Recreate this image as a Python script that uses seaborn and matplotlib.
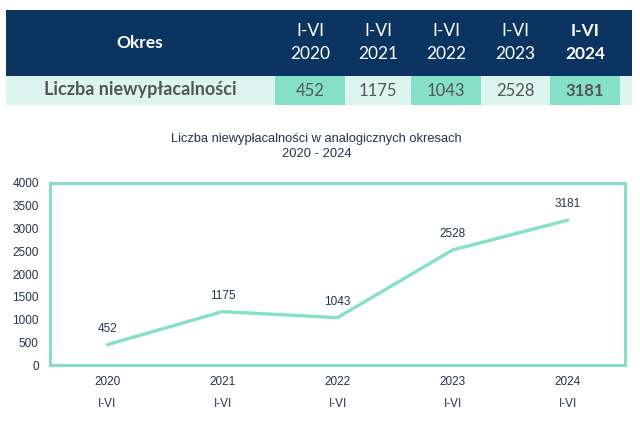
import pandas as pd
import seaborn as sns
import matplotlib.pyplot as plt
from matplotlib.patches import Rectangle

# data
years = ["2020", "2021", "2022", "2023", "2024"]
period = ["I-VI", "I-VI", "I-VI", "I-VI", "I-VI"]
values = [452, 1175, 1043, 2528, 3181]

df = pd.DataFrame({"pos": range(len(years)), "year": years, "value": values})

navy = "#0c3461"
teal = "#86e0c9"
teal_light = "#dcf5ee"
gray_txt = "#555555"
dark_txt = "#26334a"

sns.set_theme(style="white")
plt.rcParams["font.family"] = ["Liberation Sans", "DejaVu Sans"]

fig = plt.figure(figsize=(6.4, 4.47), dpi=100)

# -------------------------------
# Table on top (pixel coordinates)
# -------------------------------
tab = fig.add_axes([0, 0, 1, 1])
tab.set_xlim(0, 640)
tab.set_ylim(447, 0)
tab.axis("off")

tab.add_patch(Rectangle((6, 10), 626, 66, color=navy, lw=0))
tab.add_patch(Rectangle((6, 76), 626, 29, color=teal_light, lw=0))
col_x = [275, 345, 411, 481, 550]
col_w = [70, 66, 70, 69, 70]
for i, (x0, w) in enumerate(zip(col_x, col_w)):
    if i % 2 == 0:
        tab.add_patch(Rectangle((x0, 76), w, 29, color=teal, lw=0))

tfont = ["Lato", "DejaVu Sans"]
tab.text(140, 43, "Okres", color="white", fontsize=12.5, fontweight="bold",
         ha="center", va="center", family=tfont)
tab.text(140, 89, "Liczba niewypłacalności", color=gray_txt, fontsize=13,
         fontweight="bold", ha="center", va="center", family=tfont)
for i, (x0, w) in enumerate(zip(col_x, col_w)):
    cx = x0 + w / 2
    last = i == len(years) - 1
    wt = "bold" if last else "normal"
    tab.text(cx, 31, period[i], color="white", fontsize=12.5, fontweight=wt,
             ha="center", va="center", family=tfont)
    tab.text(cx, 54, years[i], color="white", fontsize=12.5, fontweight=wt,
             ha="center", va="center", family=tfont)
    tab.text(cx, 91, str(values[i]), color=gray_txt, fontsize=12,
             fontweight="bold" if last else "normal",
             ha="center", va="center", family=tfont)

# -------------------------------
# Line chart
# -------------------------------
ax = fig.add_axes([0.078, 0.183, 0.899, 0.408])
sns.lineplot(data=df, x="pos", y="value", color=teal, linewidth=2.4, ax=ax)

for x, v in zip(df["pos"], df["value"]):
    ax.annotate(str(v), (x, v), xytext=(0, 7), textcoords="offset points",
                ha="center", va="bottom", fontsize=8.5, color=dark_txt)

ax.set_xlim(-0.5, 4.5)
ax.set_ylim(0, 4000)
ax.set_yticks(range(0, 4001, 500))
ax.set_xticks(df["pos"])
ax.set_xticklabels([f"{y}\n{p}" for y, p in zip(years, period)], linespacing=2.1)
ax.tick_params(axis="both", length=0, labelsize=8.5, labelcolor=dark_txt)
ax.tick_params(axis="x", pad=8)
ax.tick_params(axis="y", pad=8)
ax.set_xlabel("")
ax.set_ylabel("")
for s in ax.spines.values():
    s.set_color(teal)
    s.set_linewidth(2.2)

fig.text(0.495, 0.672, "Liczba niewypłacalności w analogicznych okresach\n2020 - 2024",
         ha="center", va="center", fontsize=9.3, color=dark_txt, linespacing=1.3)

fig.savefig("out.png", dpi=100)
